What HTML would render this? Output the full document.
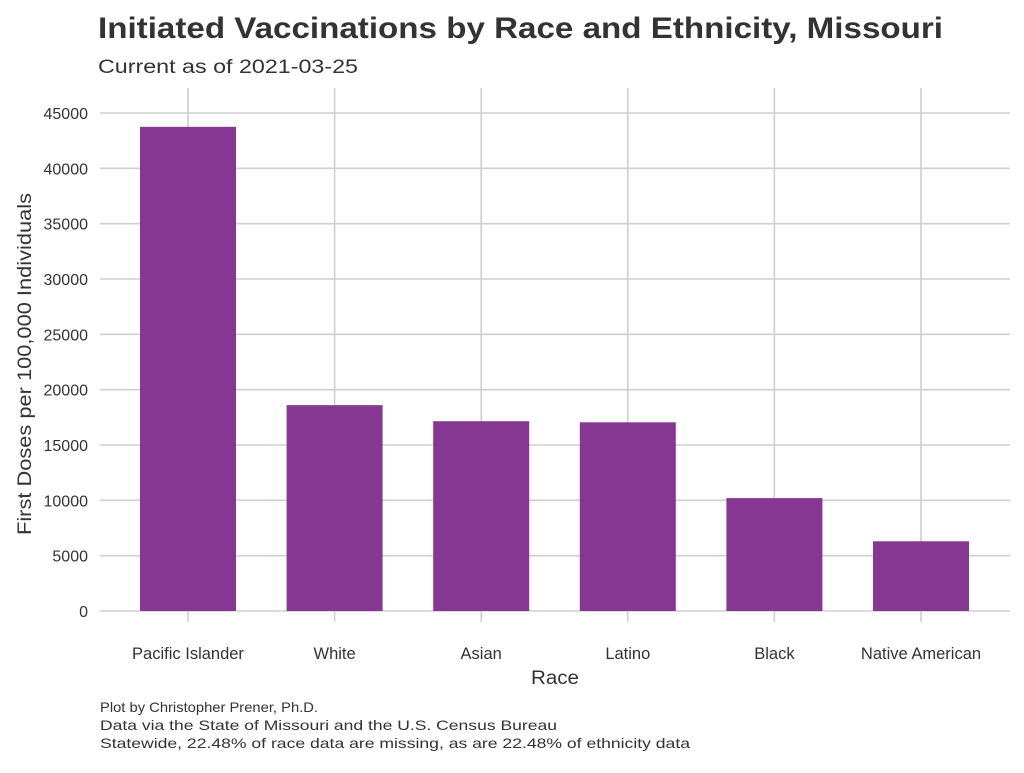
<!DOCTYPE html>
<html><head><meta charset="utf-8"><style>
body{margin:0;background:#fff;font-family:"Liberation Sans",sans-serif;}
</style></head><body>
<svg id="chart" width="1024" height="768" xmlns="http://www.w3.org/2000/svg" font-family="Liberation Sans, sans-serif">
<text x="98" y="38" font-size="30" font-weight="bold" fill="#333" textLength="845" lengthAdjust="spacingAndGlyphs">Initiated Vaccinations by Race and Ethnicity, Missouri</text>
<text x="98" y="73" font-size="19" fill="#333" textLength="260" lengthAdjust="spacingAndGlyphs">Current as of 2021-03-25</text>
<g id="grid"></g>
<g id="bars"></g>
<g id="yticks"></g>
<g id="xticks"></g>
<text transform="translate(31,364) rotate(-90)" text-anchor="middle" font-size="19" fill="#333" textLength="342" lengthAdjust="spacingAndGlyphs">First Doses per 100,000 Individuals</text>
<text x="555" y="684" text-anchor="middle" font-size="19" fill="#333" textLength="48" lengthAdjust="spacingAndGlyphs">Race</text>
<text x="100" y="712" font-size="14" fill="#333" textLength="218" lengthAdjust="spacingAndGlyphs">Plot by Christopher Prener, Ph.D.</text>
<text x="100" y="730" font-size="14" fill="#333" textLength="457" lengthAdjust="spacingAndGlyphs">Data via the State of Missouri and the U.S. Census Bureau</text>
<text x="100" y="748" font-size="14" fill="#333" textLength="590" lengthAdjust="spacingAndGlyphs">Statewide, 22.48% of race data are missing, as are 22.48% of ethnicity data</text>
</svg>
<script>
const categories = ["Pacific Islander","White","Asian","Latino","Black","Native American"];
const values = [43750, 18600, 17150, 17050, 10200, 6300];
const yTicks = [0,5000,10000,15000,20000,25000,30000,35000,40000,45000];
const ns="http://www.w3.org/2000/svg";
const y0=611, pxPer=(611-113)/45000;
const y=v=>y0-v*pxPer;
const xStart=188, step=146.6, bw=96;
const x=i=>xStart+i*step;
function mk(t,a,p){const e=document.createElementNS(ns,t);for(const k in a)e.setAttribute(k,a[k]);p.appendChild(e);return e;}
const grid=document.getElementById('grid'),bars=document.getElementById('bars'),yt=document.getElementById('yticks'),xt=document.getElementById('xticks');
yTicks.forEach(v=>{
  const l=mk('line',{x1:100,x2:1010,y1:y(v),y2:y(v),stroke:'#cfcfcf','stroke-width':1.6},grid);
  
  
  const t=mk('text',{x:88,y:y(v)+6,'text-anchor':'end','font-size':16,fill:'#333'},yt);
  t.textContent=v;
  
  
});
categories.forEach((c,i)=>{
  const l=mk('line',{x1:x(i),x2:x(i),y1:88,y2:622,stroke:'#cfcfcf','stroke-width':1.6},grid);
  
  
  const r=mk('rect',{x:x(i)-bw/2,y:y(values[i]),width:bw,height:y0-y(values[i]),fill:'#853791'},bars);
  
  
  const t=mk('text',{x:x(i),y:659,'text-anchor':'middle','font-size':16.5,fill:'#333'},xt);
  t.textContent=c;
  
  
});
</script>
</body></html>
